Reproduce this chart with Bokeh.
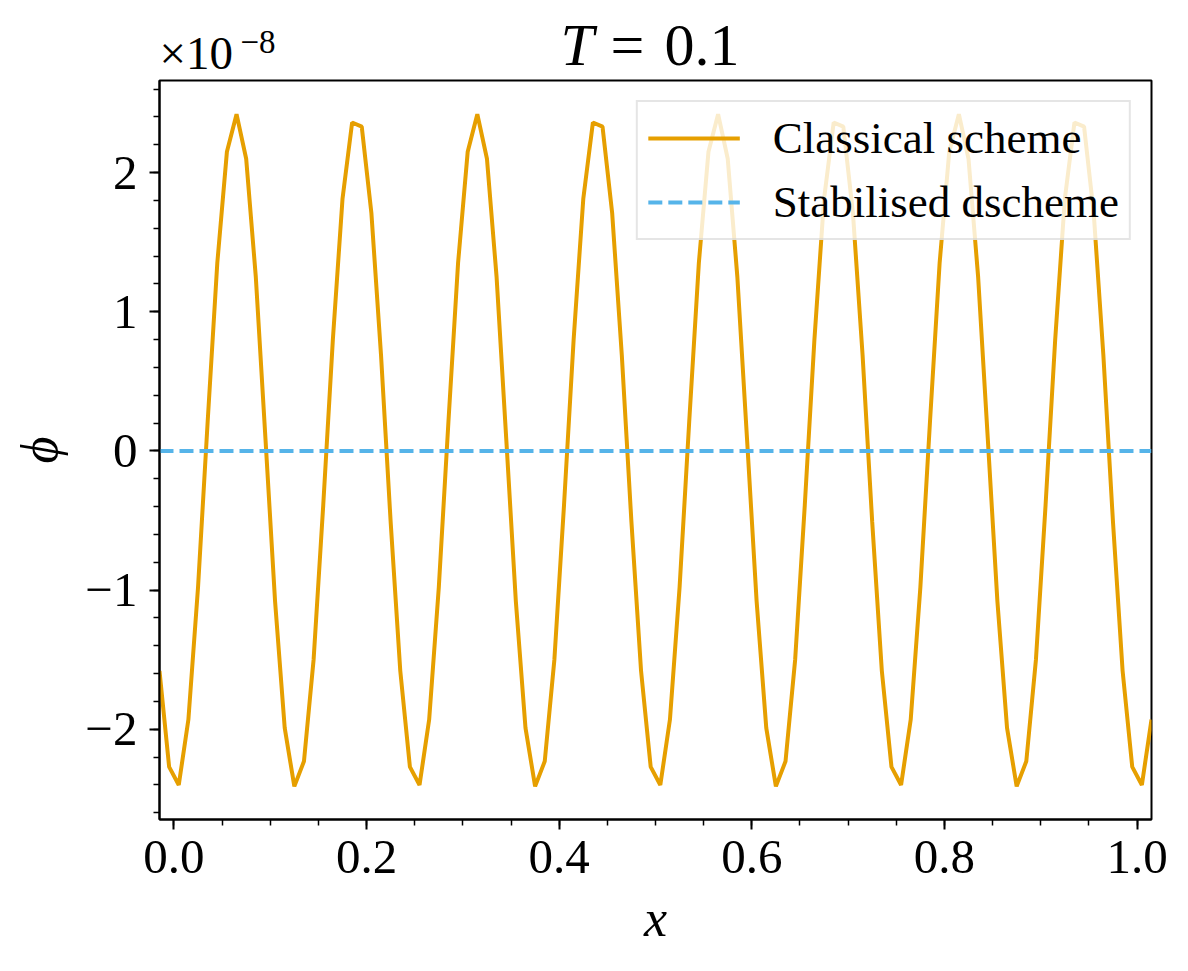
from bokeh.plotting import figure
from bokeh.layouts import column
from bokeh.models import FixedTicker, Label, Legend, LegendItem, Range1d
from bokeh.embed import file_html
from bokeh.resources import INLINE

# ---------------- data (phi in units of 1e-8) ----------------
x_positions = [
    -0.015, -0.005, 0.005, 0.015, 0.025, 0.035, 0.045, 0.055, 0.065, 0.075,
    0.085, 0.095, 0.105, 0.115, 0.125, 0.135, 0.145, 0.155, 0.165, 0.175,
    0.185, 0.195, 0.205, 0.215, 0.225, 0.235, 0.245, 0.255, 0.265, 0.275,
    0.285, 0.295, 0.305, 0.315, 0.325, 0.335, 0.345, 0.355, 0.365, 0.375,
    0.385, 0.395, 0.405, 0.415, 0.425, 0.435, 0.445, 0.455, 0.465, 0.475,
    0.485, 0.495, 0.505, 0.515, 0.525, 0.535, 0.545, 0.555, 0.565, 0.575,
    0.585, 0.595, 0.605, 0.615, 0.625, 0.635, 0.645, 0.655, 0.665, 0.675,
    0.685, 0.695, 0.705, 0.715, 0.725, 0.735, 0.745, 0.755, 0.765, 0.775,
    0.785, 0.795, 0.805, 0.815, 0.825, 0.835, 0.845, 0.855, 0.865, 0.875,
    0.885, 0.895, 0.905, 0.915, 0.925, 0.935, 0.945, 0.955, 0.965, 0.975,
    0.985, 0.995, 1.005, 1.015,
]

classical_phi = [
    -1.58, -2.27, -2.40, -1.93, -0.98, 0.21, 1.35, 2.15, 2.42, 2.10,
    1.25, 0.09, -1.08, -1.99, -2.41, -2.23, -1.50, -0.39, 0.80, 1.81,
    2.36, 2.33, 1.71, 0.69, -0.51,
    -1.58, -2.27, -2.40, -1.93, -0.98, 0.21, 1.35, 2.15, 2.42, 2.10,
    1.25, 0.09, -1.08, -1.99, -2.41, -2.23, -1.50, -0.39, 0.80, 1.81,
    2.36, 2.33, 1.71, 0.69, -0.51,
    -1.58, -2.27, -2.40, -1.93, -0.98, 0.21, 1.35, 2.15, 2.42, 2.10,
    1.25, 0.09, -1.08, -1.99, -2.41, -2.23, -1.50, -0.39, 0.80, 1.81,
    2.36, 2.33, 1.71, 0.69, -0.51,
    -1.58, -2.27, -2.40, -1.93, -0.98, 0.21, 1.35, 2.15, 2.42, 2.10,
    1.25, 0.09, -1.08, -1.99, -2.41, -2.23, -1.50, -0.39, 0.80, 1.81,
    2.36, 2.33, 1.71, 0.69, -0.51,
    -1.58, -2.27, -2.40, -1.93,
]

stabilised_phi = [
    0.0, 0.0, 0.0, 0.0, 0.0, 0.0, 0.0, 0.0, 0.0, 0.0,
    0.0, 0.0, 0.0, 0.0, 0.0, 0.0, 0.0, 0.0, 0.0, 0.0,
    0.0, 0.0, 0.0, 0.0, 0.0, 0.0, 0.0, 0.0, 0.0, 0.0,
    0.0, 0.0, 0.0, 0.0, 0.0, 0.0, 0.0, 0.0, 0.0, 0.0,
    0.0, 0.0, 0.0, 0.0, 0.0, 0.0, 0.0, 0.0, 0.0, 0.0,
    0.0, 0.0, 0.0, 0.0, 0.0, 0.0, 0.0, 0.0, 0.0, 0.0,
    0.0, 0.0, 0.0, 0.0, 0.0, 0.0, 0.0, 0.0, 0.0, 0.0,
    0.0, 0.0, 0.0, 0.0, 0.0, 0.0, 0.0, 0.0, 0.0, 0.0,
    0.0, 0.0, 0.0, 0.0, 0.0, 0.0, 0.0, 0.0, 0.0, 0.0,
    0.0, 0.0, 0.0, 0.0, 0.0, 0.0, 0.0, 0.0, 0.0, 0.0,
    0.0, 0.0, 0.0, 0.0,
]

series_names = ["Classical scheme", "Stabilised dscheme"]

x_ticks = [0.0, 0.2, 0.4, 0.6, 0.8, 1.0]
x_tick_labels = ["0.0", "0.2", "0.4", "0.6", "0.8", "1.0"]
x_minor_ticks = [0.0, 0.05, 0.1, 0.15, 0.2, 0.25, 0.3, 0.35, 0.4, 0.45, 0.5,
                 0.55, 0.6, 0.65, 0.7, 0.75, 0.8, 0.85, 0.9, 0.95, 1.0]
y_ticks = [-2, -1, 0, 1, 2]
y_tick_labels = ["\u22122", "\u22121", "0", "1", "2"]
y_minor_ticks = [-2.6, -2.4, -2.2, -2.0, -1.8, -1.6, -1.4, -1.2, -1.0, -0.8,
                 -0.6, -0.4, -0.2, 0.0, 0.2, 0.4, 0.6, 0.8, 1.0, 1.2, 1.4,
                 1.6, 1.8, 2.0, 2.2, 2.4, 2.6]

title_var = "T"
title_eq = "="
title_val = "0.1"
offset_base = "\u00d710"
offset_exp = "\u22128"

FONT = "Liberation Serif"
ORANGE = "#E69F00"
BLUE = "#56B4E9"

LEFT = 159
RIGHT = 20
FRAME_W = 992
FRAME_H = 739
HEADER_H = 79

# ---------------- header (title and offset text) ----------------
header = figure(
    output_backend="svg",
    toolbar_location=None,
    title=None,
    frame_width=FRAME_W,
    frame_height=HEADER_H,
    x_range=Range1d(0, FRAME_W),
    y_range=Range1d(0, HEADER_H),
    x_axis_type=None,
    y_axis_type=None,
    min_border_left=LEFT,
    min_border_right=RIGHT,
    min_border_top=0,
    min_border_bottom=0,
    outline_line_color=None,
    background_fill_color="white",
    border_fill_color="white",
)
header.xgrid.visible = False
header.ygrid.visible = False

def hlabel(x, baseline, text, size_px, style="normal"):
    # vertical anchor is the middle of the text box
    header.add_layout(Label(x=x, y=baseline + 0.34 * size_px, text=text,
                            text_font=FONT, text_font_size=f"{size_px}px",
                            text_font_style=style, text_baseline="middle",
                            text_align="left", text_color="black"))

hlabel(401, 14, title_var, 60, "italic")
hlabel(451, 14, title_eq, 60)
hlabel(505, 14, title_val, 60)
hlabel(0, 10.5, offset_base, 47)
hlabel(81, 26, offset_exp, 33)

# ---------------- main plot ----------------
p = figure(
    output_backend="svg",
    toolbar_location=None,
    title=None,
    frame_width=FRAME_W,
    frame_height=FRAME_H,
    x_range=Range1d(-0.015, 1.015),
    y_range=Range1d(-2.648, 2.662),
    min_border_left=LEFT,
    min_border_top=1,
    min_border_right=RIGHT,
    min_border_bottom=120,
    background_fill_color="white",
    border_fill_color="white",
)

p.xgrid.visible = False
p.ygrid.visible = False
p.outline_line_color = "black"
p.outline_line_width = 2
p.outline_line_alpha = 1.0

r1 = p.line(x_positions, classical_phi, line_color=ORANGE, line_width=4.0)
r2 = p.line(x_positions, stabilised_phi, line_color=BLUE, line_width=4.0,
            line_dash="14 6")

for ax in (p.xaxis[0], p.yaxis[0]):
    ax.axis_line_width = 2
    ax.axis_line_color = "black"
    ax.major_tick_in = 0
    ax.major_tick_out = 10
    ax.minor_tick_in = 0
    ax.minor_tick_out = 6
    ax.major_tick_line_width = 2
    ax.minor_tick_line_width = 1.5
    ax.major_label_text_font = FONT
    ax.major_label_text_font_size = "49px"
    ax.major_label_text_color = "black"
    ax.axis_label_text_font = FONT
    ax.axis_label_text_font_size = "52px"
    ax.axis_label_text_font_style = "italic"
    ax.axis_label_text_color = "black"

p.xaxis[0].ticker = FixedTicker(ticks=x_ticks, minor_ticks=x_minor_ticks)
p.xaxis[0].major_label_overrides = dict(zip(x_ticks, x_tick_labels))
p.xaxis[0].major_label_standoff = 11
p.xaxis[0].axis_label = "x"
p.xaxis[0].axis_label_standoff = 14

p.yaxis[0].ticker = FixedTicker(ticks=y_ticks, minor_ticks=y_minor_ticks)
p.yaxis[0].major_label_overrides = dict(zip(y_ticks, y_tick_labels))
p.yaxis[0].major_label_standoff = 12
p.yaxis[0].axis_label = "\u03d5"
p.yaxis[0].axis_label_standoff = 14

legend = Legend(
    items=[LegendItem(label=series_names[0], renderers=[r1]),
           LegendItem(label=series_names[1], renderers=[r2])],
    location="top_right",
    margin=20,
    padding=10,
    spacing=12,
    glyph_width=92,
    glyph_height=44,
    label_height=44,
    label_standoff=33,
    label_text_font=FONT,
    label_text_font_size="45px",
    label_text_color="black",
    background_fill_color="white",
    background_fill_alpha=0.8,
    border_line_color="#cccccc",
    border_line_width=2,
)
p.add_layout(legend)

layout = column(header, p, spacing=0)
open("out.html", "w").write(file_html(layout, INLINE))
